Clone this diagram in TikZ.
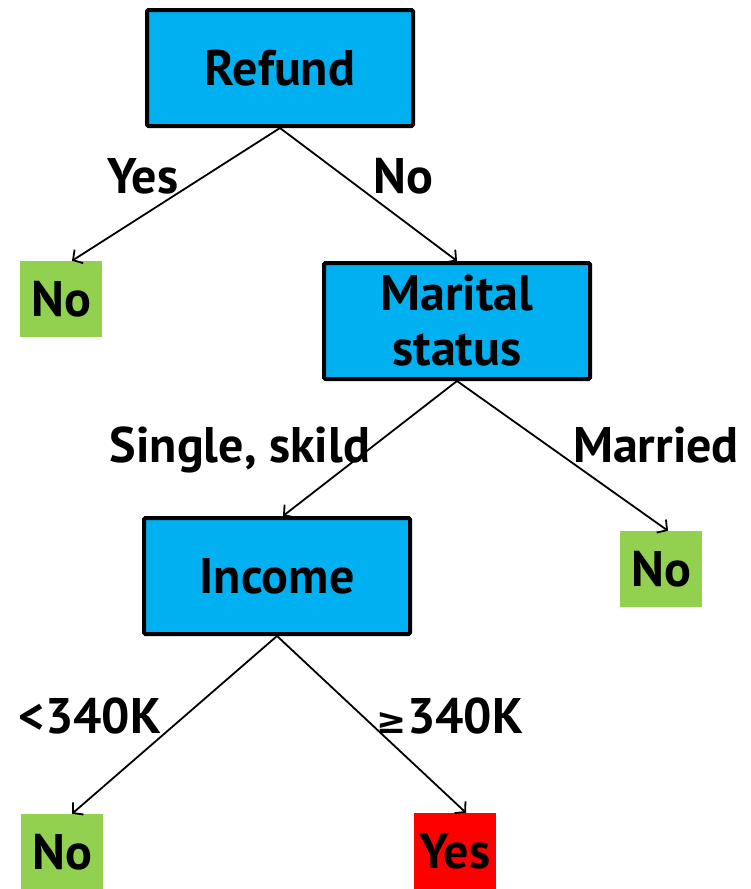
\documentclass[tikz,border=0pt]{standalone}
\usepackage{fontspec}
\setmainfont{PT Sans}
\newfontfamily\symfont{DejaVu Sans}
\usetikzlibrary{positioning,arrows.meta}
\definecolor{boxblue}{HTML}{00B0F0}
\definecolor{leafgreen}{HTML}{92D050}
\definecolor{leafred}{HTML}{FF0000}

\begin{document}
\begin{tikzpicture}[x=1pt, y=-1pt,
	decn/.style={rectangle, draw=black, line width=4pt, rounded corners=1.5pt, fill=boxblue, minimum width=266pt, minimum height=116pt, align=center, text=black, font=\fontsize{50}{55}\selectfont\bfseries},
	greenn/.style={rectangle, draw=none, fill=leafgreen, minimum width=82pt, minimum height=76pt, inner sep=0pt, font=\fontsize{50}{55}\selectfont\bfseries},
	redn/.style={rectangle, draw=none, fill=leafred, minimum width=82pt, minimum height=76pt, inner sep=0pt, font=\fontsize{50}{55}\selectfont\bfseries},
	lbl/.style={inner sep=0pt, anchor=base, font=\fontsize{50}{55}\selectfont\bfseries},
	edge/.style={line width=1.8pt, -{Straight Barb[length=7pt, width=16pt, line width=1.8pt]}}]

	\useasboundingbox (0,0) rectangle (750,889);

	% decision boxes
	\node (refund) [decn] at (280,68) {Refund};
	\node (marital) [decn] at (457,321) {Marital\\status};
	\node (income) [decn] at (277,576) {Income};

	% leaves
	\node (noA) [greenn] at (61,299) {No};
	\node (noB) [greenn] at (661,569) {No};
	\node (noC) [greenn] at (62,852) {No};
	\node (yesA) [redn] at (455,851) {Yes};

	% connectors
	\draw [edge] (refund.south) -- ([xshift=11pt]noA.north);
	\draw [edge] (refund.south) -- (marital.north);
	\draw [edge] (marital.south) -- ([xshift=6pt]income.north);
	\draw [edge] (marital.south) -- ([xshift=7pt]noB.north);
	\draw [edge] (income.south) -- ([xshift=10pt]noC.north);
	\draw [edge] (income.south) -- ([xshift=11pt]yesA.north);

	% branch labels
	\node (lyes) [lbl] at (143,193) {Yes};
	\node (lno) [lbl] at (403,193) {No};
	\node (lsingle) [lbl] at (240,462) {Single, skild};
	\node (lmarried) [lbl] at (656,462) {Married};
	\node (llow) [lbl] at (90,733) {<340K};
	\node (lhigh) [lbl] at (450,733) {{\symfont\fontsize{36}{36}\selectfont ≥}340K};

\end{tikzpicture}
\end{document}
